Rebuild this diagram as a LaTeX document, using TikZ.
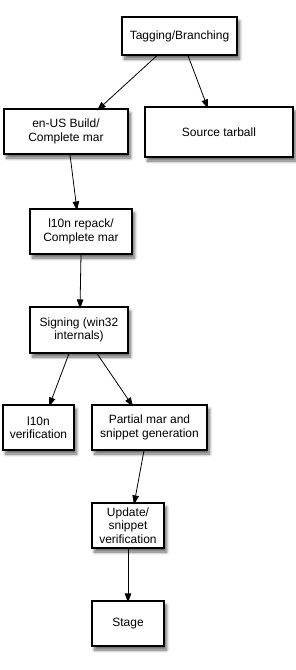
\documentclass[tikz,border=0pt]{standalone}
\usepackage{fontspec}
\setmainfont{Liberation Sans}
\usetikzlibrary{arrows.meta,shadows.blur}
\begin{document}
\begin{tikzpicture}[x=1pt,y=-1pt,
  box/.style={draw=black,line width=1.1pt,fill=white,align=center,inner sep=2pt,
    font=\fontsize{12}{13.5}\selectfont,
    blur shadow={shadow xshift=2.5pt,shadow yshift=-4pt,shadow blur radius=3pt,shadow blur steps=8,shadow opacity=60}},
  conn/.style={line width=0.8pt,-{Triangle[length=9pt,width=6.5pt]}}]
\useasboundingbox (0,0) rectangle (296,670);
\node[box,minimum width=115pt,minimum height=38pt] (tag) at (179.5,36) {Tagging/Branching};
\node[box,minimum width=124pt,minimum height=45pt] (enus) at (66,131.5) {en-US Build/\\Complete mar};
\node[box,minimum width=148pt,minimum height=50pt] (src) at (219,132) {Source tarball};
\node[box,minimum width=102pt,minimum height=45pt] (l10n) at (81,231.5) {l10n repack/\\Complete mar};
\node[box,minimum width=98pt,minimum height=46pt] (sign) at (79,330) {Signing (win32\\internals)};
\node[box,minimum width=71pt,minimum height=45pt] (verif) at (38.5,427.5) {l10n\\verification};
\node[box,minimum width=115pt,minimum height=45pt] (partial) at (149.5,427.5) {Partial mar and\\snippet generation};
\node[box,minimum width=72pt,minimum height=45pt] (update) at (128,525.5) {Update/\\snippet\\verification};
\node[box,minimum width=72pt,minimum height=45pt] (stage) at (128,623.5) {Stage};
\draw[conn] ([xshift=-22.5pt]tag.south) -- ([xshift=31pt,yshift=-2pt]enus.north);
\draw[conn] ([xshift=8.5pt]tag.south) -- ([xshift=-11pt,yshift=-2pt]src.north);
\draw[conn] ([xshift=4pt]enus.south) -- ([xshift=-4pt,yshift=-2pt]l10n.north);
\draw[conn] (l10n.south) -- ([xshift=1pt,yshift=-2pt]sign.north);
\draw[conn] ([xshift=-10pt]sign.south) -- ([xshift=10.5pt,yshift=-2pt]verif.north);
\draw[conn] ([xshift=18pt]sign.south) -- ([xshift=-16.5pt,yshift=-2pt]partial.north);
\draw[conn] ([xshift=-5.5pt]partial.south) -- ([xshift=6pt,yshift=-2pt]update.north);
\draw[conn] (update.south) -- ([yshift=-2pt]stage.north);
\end{tikzpicture}
\end{document}
